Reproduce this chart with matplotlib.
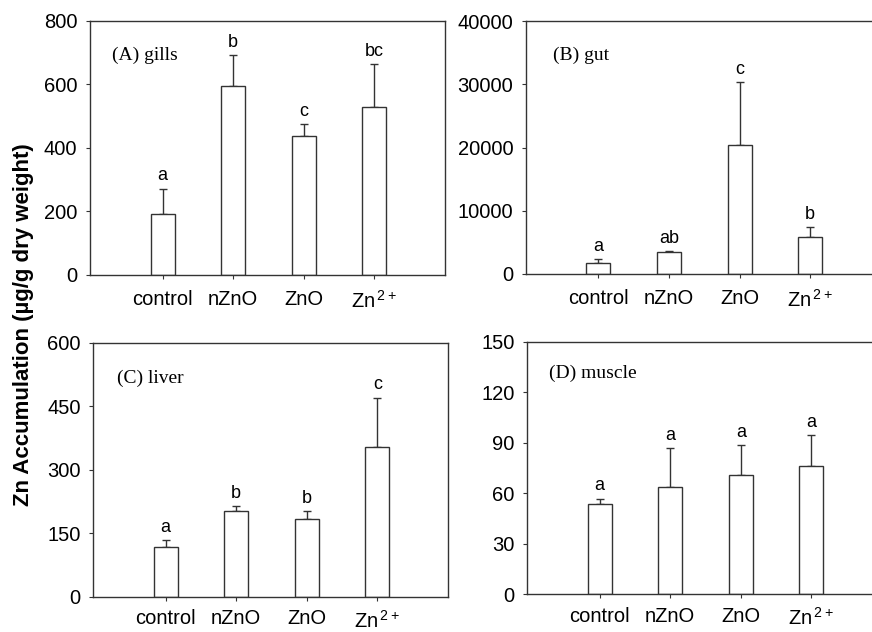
import numpy as np
import matplotlib
matplotlib.use("Agg")
import matplotlib.pyplot as plt

plt.rcParams['font.family'] = 'Liberation Sans'
plt.rcParams['mathtext.fontset'] = 'custom'
plt.rcParams['mathtext.rm'] = 'Liberation Sans'

groups = ['control', 'nZnO', 'ZnO', 'Zn$^{\\,2+}$']

gills_mean = [192, 596, 438, 530]
gills_err = [80, 97, 37, 134]
gills_letters = ['a', 'b', 'c', 'bc']

gut_mean = [1680, 3420, 20370, 5790]
gut_err = [630, 260, 10050, 1580]
gut_letters = ['a', 'ab', 'c', 'b']

liver_mean = [119, 203, 184, 355]
liver_err = [16, 11, 18, 116]
liver_letters = ['a', 'b', 'b', 'c']

muscle_mean = [53.3, 63.7, 70.7, 76.0]
muscle_err = [3.5, 22.9, 18.1, 18.3]
muscle_letters = ['a', 'a', 'a', 'a']

panels = [
    ('(A) gills', gills_mean, gills_err, gills_letters, 800, 200,
     [0.1032, 0.5649, 0.407, 0.402], (0.062, 0.866), 8),
    ('(B) gut', gut_mean, gut_err, gut_letters, 40000, 10000,
     [0.603, 0.5665, 0.407, 0.400], (0.076, 0.866), 8),
    ('(C) liver', liver_mean, liver_err, liver_letters, 600, 150,
     [0.1067, 0.0554, 0.407, 0.402], (0.068, 0.862), 6),
    ('(D) muscle', muscle_mean, muscle_err, muscle_letters, 150, 30,
     [0.6044, 0.0601, 0.407, 0.399], (0.062, 0.877), 6),
]

fig = plt.figure(figsize=(8.72, 6.32), dpi=100)
edge = '#333333'

for title, mean, err, letters, ymax, step, pos, lpos, xpad in panels:
    ax = fig.add_axes(pos)
    x = np.arange(len(groups))
    ax.bar(x, mean, width=0.34, color='white', edgecolor=edge, linewidth=1.0, zorder=2)
    ax.errorbar(x, mean, yerr=[np.zeros(len(err)), err], fmt='none', ecolor=edge,
                elinewidth=1.0, capsize=2.8, capthick=1.0, zorder=1)
    for xi, m, e, lab in zip(x, mean, err, letters):
        ax.annotate(lab, (xi, m + e), xytext=(0, 3), textcoords='offset points',
                    ha='center', va='bottom', fontsize=13)
    ax.set_xlim(-1.03, 4.0)
    ax.set_ylim(0, ymax)
    ax.set_yticks(np.arange(0, ymax + 1, step))
    ax.set_xticks(x)
    ax.set_xticklabels(groups)
    ax.tick_params(axis='x', length=3, pad=xpad, labelsize=14.5, color=edge)
    ax.tick_params(axis='y', length=3, pad=6, labelsize=14.5, color=edge)
    for sp in ax.spines.values():
        sp.set_color(edge)
        sp.set_linewidth(1.0)
    ax.text(lpos[0], lpos[1], title, transform=ax.transAxes, family='Liberation Serif',
            fontsize=14, ha='left', va='center')

fig.text(0.027, 0.487, 'Zn Accumulation (\u00b5g/g dry weight)', rotation=90,
         ha='center', va='center', fontsize=16, fontweight='bold')

fig.savefig('out.png', dpi=100)
